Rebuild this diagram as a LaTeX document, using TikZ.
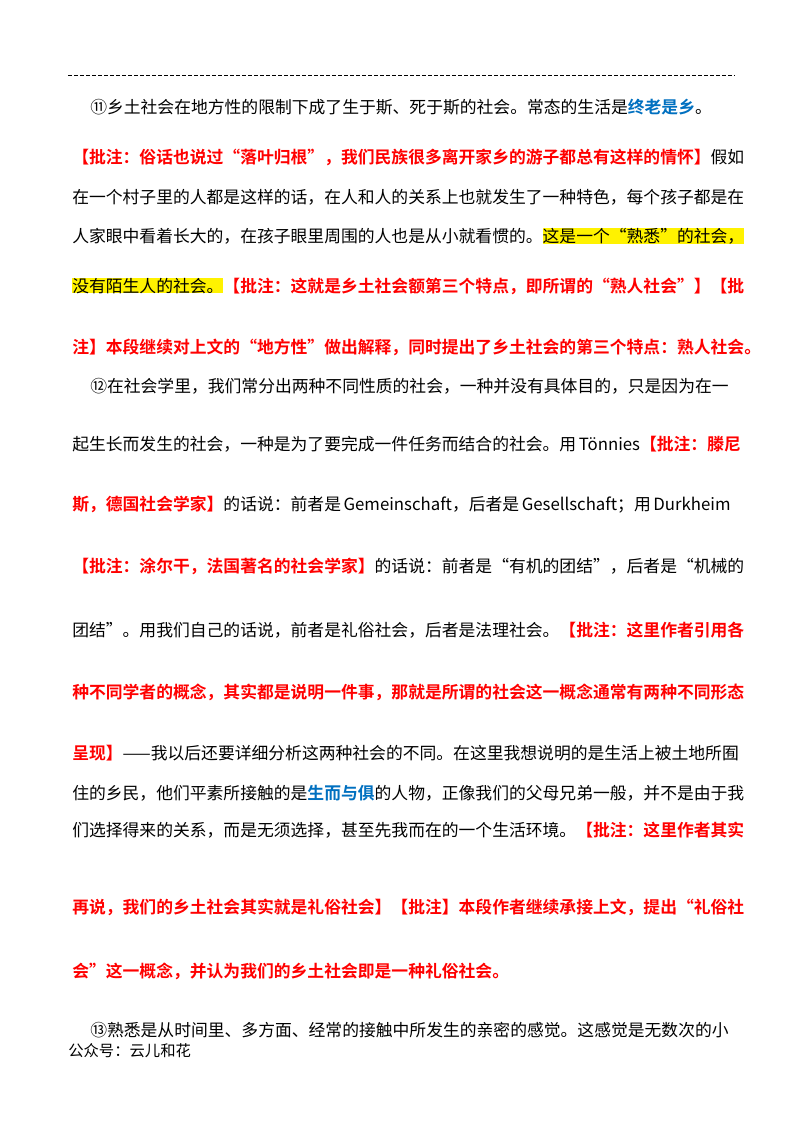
\documentclass[tikz,border=0pt]{standalone}
\usepackage{fontspec}
\usepackage{xcolor}
\setmainfont{Noto Sans CJK SC}
\newfontfamily\cjkb{Noto Sans CJK SC Bold}
\XeTeXlinebreaklocale "zh"
\XeTeXlinebreakskip=0pt plus 1fil
\definecolor{annred}{RGB}{255,0,0}
\definecolor{annblue}{RGB}{0,112,192}
\newcommand{\Rr}[1]{{\cjkb\color{annred}#1}}
\newcommand{\Bb}[1]{{\cjkb\color{annblue}#1}}
\newcommand{\HL}[1]{{\setlength{\fboxsep}{0pt}\colorbox{yellow}{#1}}}
\newcommand{\J}[2]{\makebox[#1pt][s]{#2}}
\tikzset{ln/.style={anchor=base west,inner sep=0pt,font=\fontsize{12.6pt}{15pt}\selectfont}}
\begin{document}
\begin{tikzpicture}[x=0.75pt,y=-0.75pt]
\fill[white] (0,0) rectangle (800,1132);
\useasboundingbox (0,0) rectangle (800,1132);
\coordinate (d1) at (68,75); \coordinate (d2) at (735,75);
\draw[dash pattern=on 3pt off 1.5pt,line width=0.6pt] (d1) -- (d2);
\node[ln] (l1) at (90,113) {\J{477.75}{⑪乡土社会在地方性的限制下成了生于斯、死于斯的社会。常态的生活是\Bb{终老是乡}。}};
\node[ln] (l2) at (72,163) {\J{491.25}{\Rr{【批注：俗话也说过“落叶归根”，我们民族很多离开家乡的游子都总有这样的情怀】}假如}};
\node[ln] (l3) at (72,203) {\J{491.25}{在一个村子里的人都是这样的话，在人和人的关系上也就发生了一种特色，每个孩子都是在}};
\node[ln] (l4) at (72,242) {\J{491.25}{人家眼中看着长大的，在孩子眼里周围的人也是从小就看惯的。\HL{这是一个“熟悉”的社会，}}};
\node[ln] (l5) at (72,292) {\J{491.25}{\HL{没有陌生人的社会。}\Rr{【批注：这就是乡土社会额第三个特点，即所谓的“熟人社会”】【批}}};
\node[ln] (l6) at (72,353) {\J{491.25}{\Rr{注】本段继续对上文的“地方性”做出解释，同时提出了乡土社会的第三个特点：熟人社会。}}};
\node[ln] (l7) at (90,392) {\J{477.75}{⑫在社会学里，我们常分出两种不同性质的社会，一种并没有具体目的，只是因为在一}};
\node[ln] (l8) at (72,450) {\J{491.25}{起生长而发生的社会，一种是为了要完成一件任务而结合的社会。用 Tönnies\Rr{【批注：滕尼}}};
\node[ln] (l9) at (72,510) {\J{491.25}{\Rr{斯，德国社会学家】}的话说：前者是 Gemeinschaft，后者是 Gesellschaft；用 Durkheim}};
\node[ln] (l10) at (72,572) {\J{491.25}{\Rr{【批注：涂尔干，法国著名的社会学家】}的话说：前者是“有机的团结”，后者是“机械的}};
\node[ln] (l11) at (72,636) {\J{491.25}{团结”。用我们自己的话说，前者是礼俗社会，后者是法理社会。\Rr{【批注：这里作者引用各}}};
\node[ln] (l12) at (72,698) {\J{491.25}{\Rr{种不同学者的概念，其实都是说明一件事，那就是所谓的社会这一概念通常有两种不同形态}}};
\node[ln] (l13) at (72,759) {\J{491.25}{\Rr{呈现】}——我以后还要详细分析这两种社会的不同。在这里我想说明的是生活上被土地所囿}};
\node[ln] (l14) at (72,799) {\J{491.25}{住的乡民，他们平素所接触的是\Bb{生而与俱}的人物，正像我们的父母兄弟一般，并不是由于我}};
\node[ln] (l15) at (72,836) {\J{491.25}{们选择得来的关系，而是无须选择，甚至先我而在的一个生活环境。\Rr{【批注：这里作者其实}}};
\node[ln] (l16) at (72,913) {\J{491.25}{\Rr{再说，我们的乡土社会其实就是礼俗社会】【批注】本段作者继续承接上文，提出“礼俗社}}};
\node[ln] (l17) at (72,977) {\Rr{会”这一概念，并认为我们的乡土社会即是一种礼俗社会。}};
\node[ln] (l18) at (90,1036) {\J{477.75}{⑬熟悉是从时间里、多方面、经常的接触中所发生的亲密的感觉。这感觉是无数次的小}};
\node[ln,font=\fontsize{11.5pt}{14pt}\selectfont] (l19) at (68,1056) {公众号：云儿和花};
\end{tikzpicture}
\end{document}
